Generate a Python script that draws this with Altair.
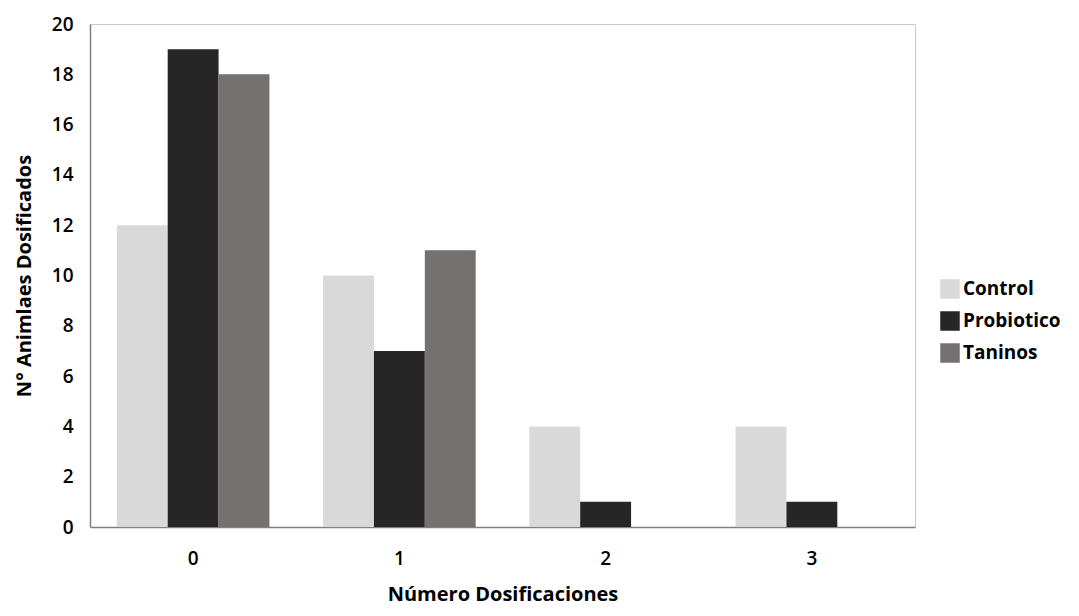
import altair as alt
import pandas as pd

categories = ["0", "1", "2", "3"]
series = ["Control", "Probiotico", "Taninos"]
control = [12, 10, 4, 4]
probiotico = [19, 7, 1, 1]
taninos = [18, 11, 0, 0]
colors = ["#d9d9d9", "#262626", "#767171"]

rows = []
for name, vals in zip(series, [control, probiotico, taninos]):
    for c, v in zip(categories, vals):
        rows.append({"cat": c, "serie": name, "valor": v})
df = pd.DataFrame(rows)

FONT = "Open Sans"

chart = alt.Chart(df).mark_bar().encode(
    x=alt.X("cat:N", sort=categories, title="Número Dosificaciones",
            scale=alt.Scale(paddingInner=0.26, paddingOuter=0.13),
            axis=alt.Axis(labelAngle=0, ticks=False, labelPadding=22, titlePadding=16,
                          labelFontSize=19, titleFontSize=20, labelFont=FONT, titleFont=FONT,
                          labelColor="#000", titleColor="#000", domainColor="#808080",
                          domainWidth=1.5, labelFontWeight=600, titleFontWeight="bold")),
    xOffset=alt.XOffset("serie:N", sort=series),
    y=alt.Y("valor:Q", title="N° Animlaes Dosificados",
            scale=alt.Scale(domain=[0, 20]),
            axis=alt.Axis(values=list(range(0, 21, 2)), grid=False, ticks=False, labelPadding=17,
                          titlePadding=17, labelFontSize=19, titleFontSize=20, labelFont=FONT,
                          titleFont=FONT, labelColor="#000", titleColor="#000",
                          domainColor="#808080", domainWidth=1.5, labelFontWeight=600,
                          titleFontWeight="bold")),
    color=alt.Color("serie:N", sort=series,
                    scale=alt.Scale(domain=series, range=colors),
                    legend=alt.Legend(title=None, orient="none", legendX=850, legendY=255,
                                      symbolType="square", symbolSize=380, symbolStrokeWidth=0,
                                      labelFontSize=19, labelFont=FONT, labelFontWeight="bold",
                                      labelColor="#000", rowPadding=12, labelOffset=3)),
).properties(
    width=825, height=503,
    autosize=alt.AutoSizeParams(type="none"),
    padding={"left": 82, "top": 16, "right": 150, "bottom": 81},
).configure_view(stroke="#c8c8c8", strokeWidth=1)

chart.save("out.html", embed_options={"renderer": "svg", "actions": False})
